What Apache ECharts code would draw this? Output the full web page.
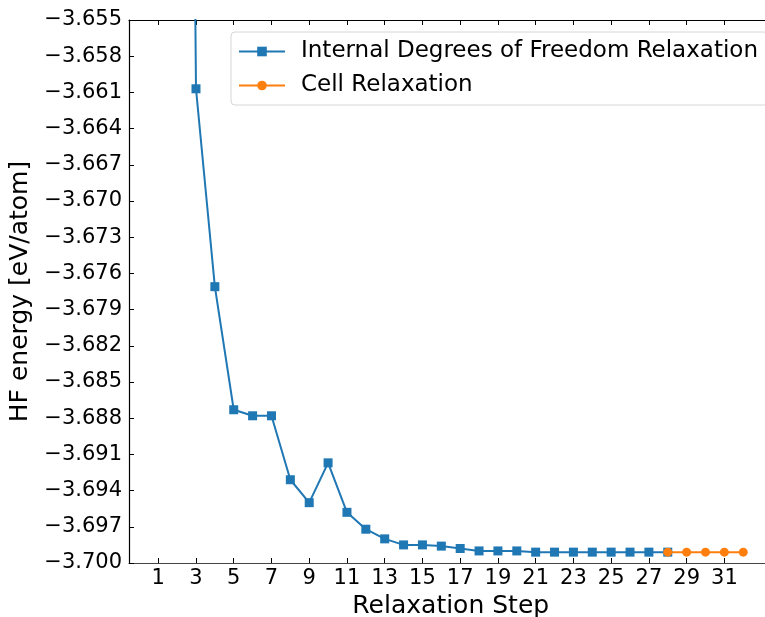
<!DOCTYPE html>
<html>
<head>
<meta charset="utf-8">
<script src="https://cdn.jsdelivr.net/npm/echarts@6/dist/echarts.min.js"></script>
<style>
  html, body { margin: 0; padding: 0; background: #fff; }
  #chart { width: 765px; height: 617px; }
</style>
</head>
<body>
<div id="chart"></div>
<script>
// Relaxation steps and HF energies (eV/atom)
const idofSteps = [1, 2, 3, 4, 5, 6, 7, 8, 9, 10, 11, 12, 13, 14, 15, 16, 17, 18, 19, 20, 21, 22, 23, 24, 25, 26, 27, 28];
const idofEnergy = [-3.350, -3.488, -3.6607, -3.6771, -3.6873, -3.6878, -3.6878, -3.6931, -3.6950, -3.6917,
                    -3.6958, -3.6972, -3.6980, -3.6985, -3.6985, -3.6986, -3.6988, -3.6990, -3.6990, -3.6990,
                    -3.6991, -3.6991, -3.6991, -3.6991, -3.6991, -3.6991, -3.6991, -3.6991];
const cellSteps = [28, 29, 30, 31, 32];
const cellEnergy = [-3.6991, -3.6991, -3.6991, -3.6991, -3.6991];

const xTicks = [1, 3, 5, 7, 9, 11, 13, 15, 17, 19, 21, 23, 25, 27, 29, 31];
const yTicks = [-3.700, -3.697, -3.694, -3.691, -3.688, -3.685, -3.682, -3.679, -3.676,
                -3.673, -3.670, -3.667, -3.664, -3.661, -3.658, -3.655];

const seriesNames = ['Internal Degrees of Freedom Relaxation', 'Cell Relaxation'];

const FONT = 'DejaVu Sans';
const BLUE = '#1f77b4';
const ORANGE = '#ff7f0e';

const chart = echarts.init(document.getElementById('chart'), null, { renderer: 'canvas' });

const fmtY = v => (v < 0 ? '\u2212' : '') + Math.abs(v).toFixed(3);

chart.setOption({
  animation: false,
  backgroundColor: '#fff',
  grid: { left: 129, top: 20, bottom: 54, right: -7.5, containLabel: false, outerBoundsMode: 'none' },
  xAxis: [
    {
      type: 'value', position: 'bottom', min: -0.55, max: 33.55,
      name: 'Relaxation Step', nameLocation: 'middle', nameGap: 28,
      nameTextStyle: { fontFamily: FONT, fontSize: 25, color: '#000' },
      axisLine: { show: true, onZero: false, lineStyle: { color: '#444', width: 1.2 } },
      axisTick: { show: true, inside: true, length: 5, customValues: xTicks, lineStyle: { color: '#000', width: 1 } },
      axisLabel: { show: true, customValues: xTicks, margin: 5, fontFamily: FONT, fontSize: 21, color: '#000' },
      splitLine: { show: false }
    },
    {
      type: 'value', position: 'top', min: -0.55, max: 33.55,
      axisLine: { show: true, onZero: false, lineStyle: { color: '#000', width: 1.2 } },
      axisTick: { show: true, inside: true, length: 5, customValues: xTicks, lineStyle: { color: '#000', width: 1 } },
      axisLabel: { show: false },
      splitLine: { show: false }
    }
  ],
  yAxis: {
    type: 'value', min: -3.700, max: -3.655,
    name: 'HF energy [eV/atom]', nameLocation: 'middle', nameGap: 94, nameRotate: 90,
    nameTextStyle: { fontFamily: FONT, fontSize: 25, color: '#000' },
    axisLine: { show: true, onZero: false, lineStyle: { color: '#000', width: 1.2 } },
    axisTick: { show: true, inside: true, length: 5, customValues: yTicks, lineStyle: { color: '#000', width: 1 } },
    axisLabel: { show: true, customValues: yTicks, margin: 7, fontFamily: FONT, fontSize: 21, color: '#000', formatter: fmtY },
    splitLine: { show: false }
  },
  legend: {
    orient: 'vertical', left: 231, top: 32,
    padding: [8, 10, 8, 7],
    itemWidth: 46, itemHeight: 12, itemGap: 11,
    backgroundColor: 'rgba(255,255,255,0.8)',
    borderColor: '#d6d6d6', borderWidth: 1, borderRadius: 4,
    textStyle: { fontFamily: FONT, fontSize: 23, color: '#000', padding: [0, 0, 0, 11] },
    data: seriesNames
  },
  series: [
    {
      name: seriesNames[0], type: 'line', xAxisIndex: 0,
      data: idofSteps.map((s, i) => [s, idofEnergy[i]]),
      symbol: 'rect', symbolSize: 9, clip: true,
      lineStyle: { color: BLUE, width: 2 }, itemStyle: { color: BLUE }
    },
    {
      name: seriesNames[1], type: 'line', xAxisIndex: 0,
      data: cellSteps.map((s, i) => [s, cellEnergy[i]]),
      symbol: 'circle', symbolSize: 9, clip: true,
      lineStyle: { color: ORANGE, width: 2 }, itemStyle: { color: ORANGE }
    }
  ]
});
</script>
</body>
</html>
